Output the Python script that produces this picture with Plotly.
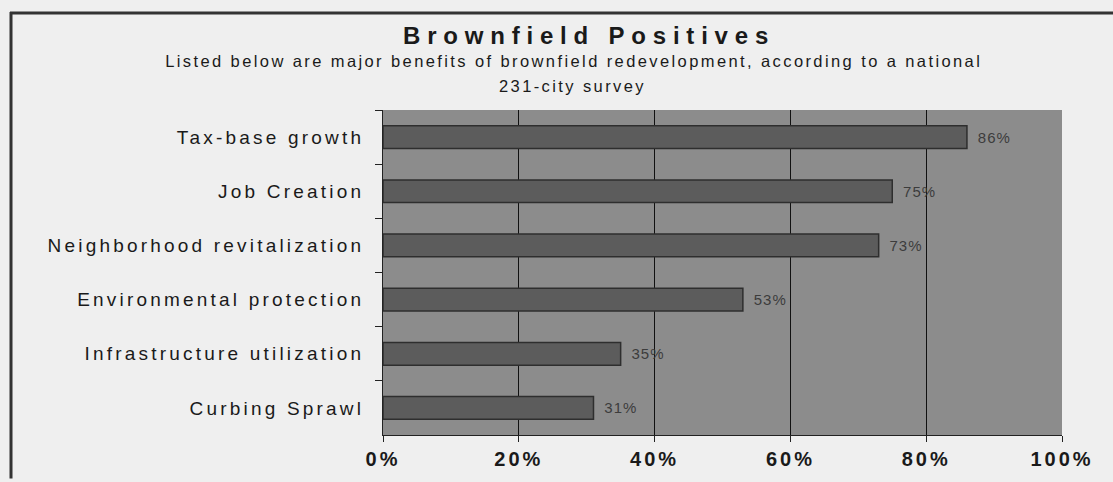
import plotly.graph_objects as go

categories = ["Tax-base growth", "Job Creation", "Neighborhood revitalization",
              "Environmental protection", "Infrastructure utilization", "Curbing Sprawl"]
values = [86, 75, 73, 53, 35, 31]
x_ticks = [0, 20, 40, 60, 80, 100]
x_tick_labels = ["0%", "20%", "40%", "60%", "80%", "100%"]
grid_vals = [20, 40, 60, 80]

title = "Brownfield Positives"
subtitle_1 = "Listed below are major benefits of brownfield redevelopment, according to a national"
subtitle_2 = "231-city survey"

W, H = 1113, 482
L, R, T, B = 383, 51, 110, 44
pw, ph = W - L - R, H - T - B

def px(x):
    return (x - L) / pw

def py(y):
    return 1 - (y - T) / ph

FONT = "Liberation Sans, Arial"

fig = go.Figure(go.Bar(
    y=categories, x=values, orientation="h",
    marker=dict(color="#5c5c5c", line=dict(color="#2e2e2e", width=1.5)),
    width=0.42,
    text=[f"\u00a0\u00a0{v}%" for v in values], textposition="outside",
    textfont=dict(family=FONT, size=15, color="#3c3c3c"),
    cliponaxis=False,
))

fig.update_layout(
    width=W, height=H,
    margin=dict(l=L, r=R, t=T, b=B),
    paper_bgcolor="#efefef", plot_bgcolor="#8c8c8c",
    showlegend=False,
    font=dict(family=FONT, color="#1a1a1a"),
    xaxis=dict(range=[0, 100], tickvals=x_ticks,
               ticktext=[f"<b>{t}</b>" for t in x_tick_labels],
               showgrid=False,
               minor=dict(tickvals=grid_vals, showgrid=True, gridcolor="#111111", gridwidth=1, ticks=""),
               showline=True, linecolor="#222222", linewidth=1,
               ticks="outside", ticklen=6, tickcolor="#222222",
               tickfont=dict(size=20, family=FONT, color="#1a1a1a"),
               zeroline=False, fixedrange=True),
    yaxis=dict(autorange="reversed", showgrid=False,
               showline=True, linecolor="#222222", linewidth=1,
               ticks="outside", ticklen=7, tickcolor="#222222", tickson="boundaries",
               tickfont=dict(size=19, color="#1a1a1a"), ticklabelstandoff=14),
    annotations=[
        dict(text=f"<b>{title}</b>", x=px(589), y=py(35), xref="paper", yref="paper",
             showarrow=False, font=dict(size=24, color="#1a1a1a"), xanchor="center", yanchor="middle"),
        dict(text=subtitle_1, x=px(573), y=py(61), xref="paper", yref="paper",
             showarrow=False, font=dict(size=16.5, color="#1a1a1a"), xanchor="center", yanchor="middle"),
        dict(text=subtitle_2, x=px(573), y=py(86), xref="paper", yref="paper",
             showarrow=False, font=dict(size=16.5, color="#1a1a1a"), xanchor="center", yanchor="middle"),
    ],
    shapes=[
        dict(type="line", xref="paper", yref="paper", x0=px(10), x1=px(1113), y0=py(12), y1=py(12),
             line=dict(color="#333333", width=3)),
        dict(type="line", xref="paper", yref="paper", x0=px(11), x1=px(11), y0=py(11), y1=py(482),
             line=dict(color="#333333", width=3)),
    ],
)

post = """
var gd = document.getElementById('{plot_id}');
function spaceText() {
  function sp(sel, v) { gd.querySelectorAll(sel).forEach(function (t) { t.style.letterSpacing = v; }); }
  sp('.ytick text', '3.2px');
  sp('.xtick text', '3px');
  sp('.bartext', '1px');
  var ann = gd.querySelectorAll('.annotation-text');
  if (ann.length >= 3) {
    ann[0].style.letterSpacing = '6.8px';
    ann[1].style.letterSpacing = '2.4px';
    ann[2].style.letterSpacing = '2.4px';
  }
}
spaceText();
gd.on('plotly_afterplot', spaceText);
setTimeout(spaceText, 50);
"""

fig.write_html("out.html", post_script=post)
